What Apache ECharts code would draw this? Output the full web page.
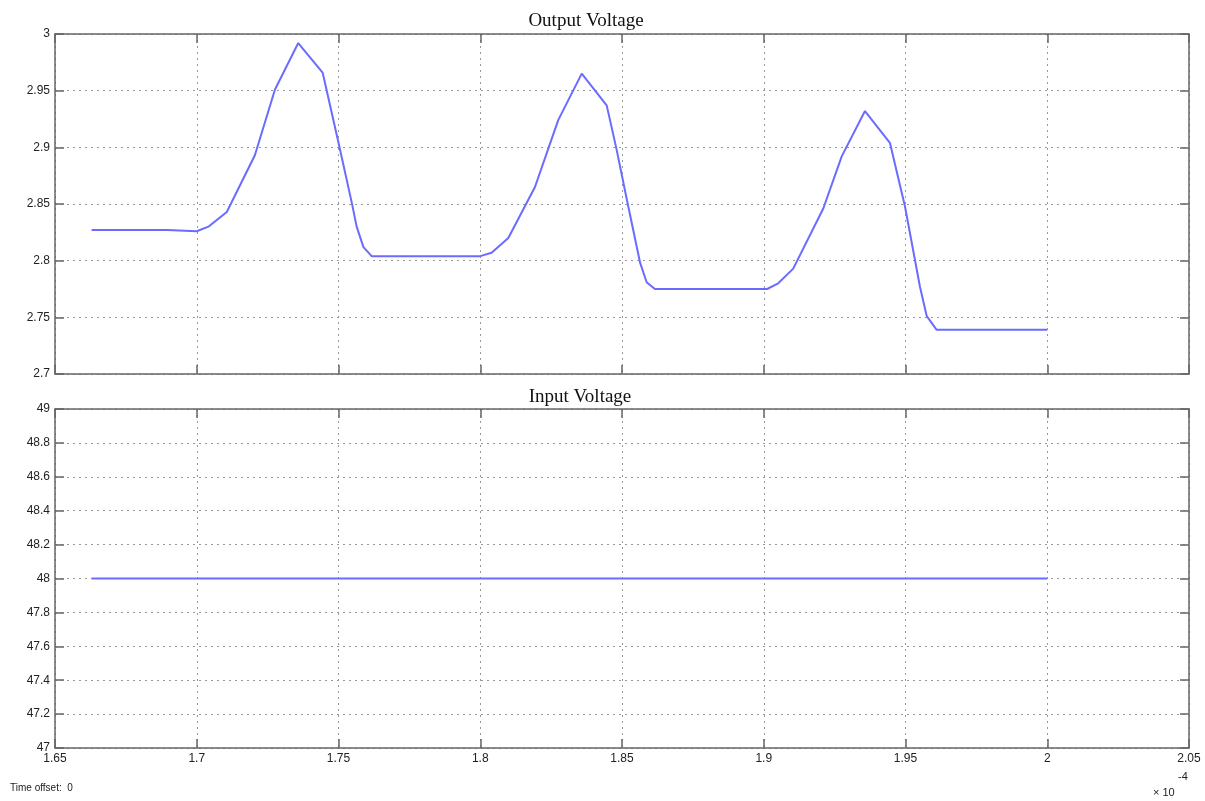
<!DOCTYPE html>
<html>
<head>
<meta charset="utf-8">
<script src="https://cdn.jsdelivr.net/npm/echarts@6/dist/echarts.min.js"></script>
<style>
html, body { margin: 0; padding: 0; background: #fff; }
#main { width: 1205px; height: 801px; }
</style>
</head>
<body>
<div id="main"></div>
<script>
// time in units of 1e-4 s
var outTime = [1.6629, 1.6896, 1.6900, 1.7000, 1.7041, 1.7106, 1.7205, 1.7276, 1.7358, 1.7444,
    1.7500, 1.7547, 1.7564, 1.7588, 1.7617, 1.8000, 1.8040, 1.8099, 1.8193, 1.8275,
    1.8358, 1.8446, 1.8481, 1.8517, 1.8564, 1.8587, 1.8616, 1.9012, 1.9051, 1.9104,
    1.9210, 1.9275, 1.9357, 1.9445, 1.9498, 1.9551, 1.9575, 1.9610, 2.0000];
var outVolt = [2.827, 2.827, 2.826, 2.826, 2.830, 2.843, 2.893, 2.951, 2.992, 2.966,
    2.904, 2.851, 2.830, 2.812, 2.804, 2.804, 2.807, 2.820, 2.865, 2.924,
    2.965, 2.937, 2.898, 2.854, 2.798, 2.781, 2.775, 2.775, 2.780, 2.793,
    2.846, 2.892, 2.932, 2.904, 2.848, 2.777, 2.751, 2.739, 2.739];
var inTime = [1.6629, 2.0000];
var inVolt = [48, 48];

var xTicks = { min: 1.65, max: 2.05, interval: 0.05 };
var outTicks = { min: 2.7, max: 3.0, interval: 0.05 };
var inTicks = { min: 47, max: 49, interval: 0.2 };

function pairs(xs, ys) {
    return xs.map(function (x, i) { return [x, ys[i]]; });
}

var frame = { show: true, onZero: false, lineStyle: { color: '#666', width: 1.5 } };
var tick = { show: true, inside: true, length: 9, lineStyle: { color: '#666', width: 1.5 } };
var dotted = { show: true, lineStyle: { color: '#999', type: [2, 4], width: 1 } };
var tickFont = { color: '#222', fontSize: 12, fontFamily: 'Liberation Sans, Arial' };

function xAxisFor(gi, labels) {
    return [
        {
            type: 'value', gridIndex: gi, position: 'bottom',
            min: xTicks.min, max: xTicks.max, interval: xTicks.interval,
            axisLine: frame, axisTick: tick, splitLine: dotted,
            axisLabel: Object.assign({ show: labels, margin: 5 }, tickFont)
        },
        {
            type: 'value', gridIndex: gi, position: 'top',
            min: xTicks.min, max: xTicks.max, interval: xTicks.interval,
            axisLine: frame, axisTick: tick, splitLine: { show: false },
            axisLabel: { show: false }
        }
    ];
}

function yAxisFor(gi, t) {
    return [
        {
            type: 'value', gridIndex: gi, position: 'left',
            min: t.min, max: t.max, interval: t.interval,
            axisLine: frame, axisTick: tick, splitLine: dotted,
            axisLabel: Object.assign({ margin: 5 }, tickFont)
        },
        {
            type: 'value', gridIndex: gi, position: 'right',
            min: t.min, max: t.max, interval: t.interval,
            axisLine: frame, axisTick: tick, splitLine: { show: false },
            axisLabel: { show: false }
        }
    ];
}

var chart = echarts.init(document.getElementById('main'));
var titleFont = { fontFamily: 'Liberation Serif, Times New Roman, serif', fontSize: 19, fontWeight: 'normal', color: '#111' };

var option = {
    backgroundColor: '#fff',
    animation: false,
    title: [
        { text: 'Output Voltage', left: 581, top: 7, textAlign: 'center', textStyle: titleFont },
        { text: 'Input Voltage', left: 575, top: 383, textAlign: 'center', textStyle: titleFont }
    ],
    grid: [
        { left: 55, right: 16, top: 34, height: 340 },
        { left: 55, right: 16, top: 409, height: 339 }
    ],
    xAxis: xAxisFor(0, false).concat(xAxisFor(1, true)),
    yAxis: yAxisFor(0, outTicks).concat(yAxisFor(1, inTicks)),
    series: [
        {
            type: 'line', xAxisIndex: 0, yAxisIndex: 0,
            data: pairs(outTime, outVolt), showSymbol: false,
            lineStyle: { color: '#6b6bff', width: 2 }
        },
        {
            type: 'line', xAxisIndex: 2, yAxisIndex: 2,
            data: pairs(inTime, inVolt), showSymbol: false,
            lineStyle: { color: '#6b6bff', width: 2 }
        }
    ],
    graphic: [
        { type: 'text', left: 10, top: 783, style: { text: 'Time offset:  0', fontSize: 10, fontFamily: 'Liberation Sans, Arial', fill: '#222' } },
        { type: 'text', left: 1153, top: 787, style: { text: '\u00d7 10', fontSize: 11, fontFamily: 'Liberation Sans, Arial', fill: '#222' } },
        { type: 'text', left: 1178, top: 771, style: { text: '-4', fontSize: 11, fontFamily: 'Liberation Sans, Arial', fill: '#222' } }
    ]
};
chart.setOption(option);
</script>
</body>
</html>
